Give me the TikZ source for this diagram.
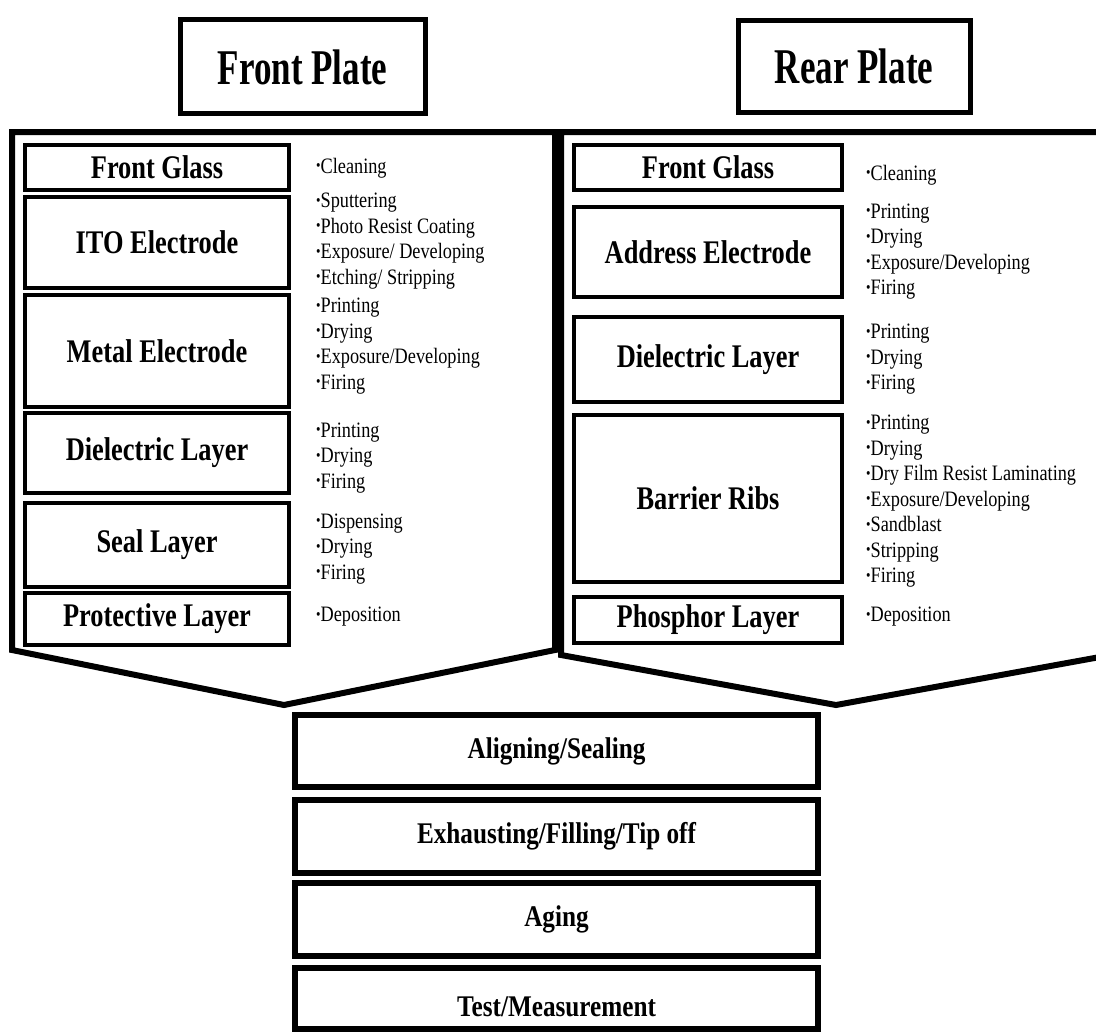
\documentclass[tikz,border=0pt]{standalone}
\usepackage{fontspec}
\usepackage{graphicx}
\setmainfont{Liberation Serif}
\newfontfamily\titlefont{Liberation Serif}[FakeStretch=0.70]
\newfontfamily\labfont{Liberation Serif}[FakeStretch=0.80]
\newfontfamily\procfont{Liberation Serif}[FakeStretch=0.84]
\newfontfamily\stepfont{Liberation Serif}[FakeStretch=0.83]
\newcommand\bul{\raisebox{0.25ex}{\scalebox{0.7}{\textbullet}}}
\begin{document}
\begin{tikzpicture}[x=1pt,y=-1pt,
  titlebox/.style={draw, line width=5pt, inner sep=0pt,
    font=\titlefont\bfseries\fontsize{50}{60}\selectfont},
  lay/.style={draw, line width=4pt, inner sep=0pt,
    font=\labfont\bfseries\fontsize{33}{38}\selectfont},
  proc/.style={draw, line width=6pt, inner sep=0pt, minimum width=523pt,
    font=\procfont\bfseries\fontsize{30}{36}\selectfont},
  proctext/.style={inner sep=0pt, font=\procfont\bfseries\fontsize{30}{36}\selectfont},
  steps/.style={anchor=west, inner sep=0pt, align=left,
    font=\stepfont\fontsize{22}{25.5}\selectfont},
  plate/.style={line width=6pt, line join=miter}]
\useasboundingbox (0,0) rectangle (1096,1033);
\fill[white] (0,0) rectangle (1096,1033);

% title boxes
\node[titlebox, minimum width=245pt, minimum height=94pt] (fp) at (302.5,67) {Front Plate};
\node[titlebox, minimum width=232pt, minimum height=92pt] (rp) at (854,66.5) {Rear Plate};

% plate outlines (block arrows)
\draw[plate] (12,132) -- (555,132) -- (555,650) -- (284,705) -- (12,650) -- cycle;
\draw[plate] (561,132) -- (1111,132) -- (1111,655) -- (836,705) -- (561,655) -- cycle;

% front plate layers
\node[lay, minimum width=264pt, minimum height=45pt]  (lfg)   at (157,167.5) {Front Glass};
\node[lay, minimum width=264pt, minimum height=91pt]  (lito)  at (157,242.5) {ITO Electrode};
\node[lay, minimum width=264pt, minimum height=112pt] (lmet)  at (157,351)   {Metal Electrode};
\node[lay, minimum width=264pt, minimum height=80pt]  (ldie)  at (157,453)   {Dielectric Layer};
\node[lay, minimum width=264pt, minimum height=84pt]  (lseal) at (157,545)   {Seal Layer};
\node[lay, minimum width=264pt, minimum height=52pt]  (lprot) at (157,619)   {Protective Layer};

\node[steps] (lfgs)   at (316,168) {\bul Cleaning};
\node[steps] (litos)  at (316,241) {\bul Sputtering\\\bul Photo Resist Coating\\\bul Exposure/ Developing\\\bul Etching/ Stripping};
\node[steps] (lmets)  at (316,346) {\bul Printing\\\bul Drying\\\bul Exposure/Developing\\\bul Firing};
\node[steps] (ldies)  at (316,458) {\bul Printing\\\bul Drying\\\bul Firing};
\node[steps] (lseals) at (316,549) {\bul Dispensing\\\bul Drying\\\bul Firing};
\node[steps] (lprots) at (316,617) {\bul Deposition};

% rear plate layers
\node[lay, minimum width=268pt, minimum height=45pt]  (rfg)  at (708,167.5) {Front Glass};
\node[lay, minimum width=268pt, minimum height=90pt]  (radd) at (708,252)   {Address Electrode};
\node[lay, minimum width=268pt, minimum height=85pt]  (rdie) at (708,359.5) {Dielectric Layer};
\node[lay, minimum width=268pt, minimum height=167pt] (rbar) at (708,498.5) {Barrier Ribs};
\node[lay, minimum width=268pt, minimum height=46pt]  (rpho) at (708,620)   {Phosphor Layer};

\node[steps] (rfgs)  at (866,175)   {\bul Cleaning};
\node[steps] (radds) at (866,251.5) {\bul Printing\\\bul Drying\\\bul Exposure/Developing\\\bul Firing};
\node[steps] (rdies) at (866,359.5) {\bul Printing\\\bul Drying\\\bul Firing};
\node[steps] (rbars) at (866,501.5) {\bul Printing\\\bul Drying\\\bul Dry Film Resist Laminating\\\bul Exposure/Developing\\\bul Sandblast\\\bul Stripping\\\bul Firing};
\node[steps] (rphos) at (866,617)   {\bul Deposition};

% assembly steps
\node[proc, minimum height=72pt] (align) at (556.5,751)   {Aligning/Sealing};
\node[proc, minimum height=73pt] (exh)   at (556.5,836.5) {Exhausting/Filling/Tip off};
\node[proc, minimum height=73pt] (aging) at (556.5,919.5) {Aging};
\node[proc, minimum height=61pt] (test)  at (556.5,998.5) {};
\node[proctext] (testl) at (556.5,1007) {Test/Measurement};
\end{tikzpicture}
\end{document}
